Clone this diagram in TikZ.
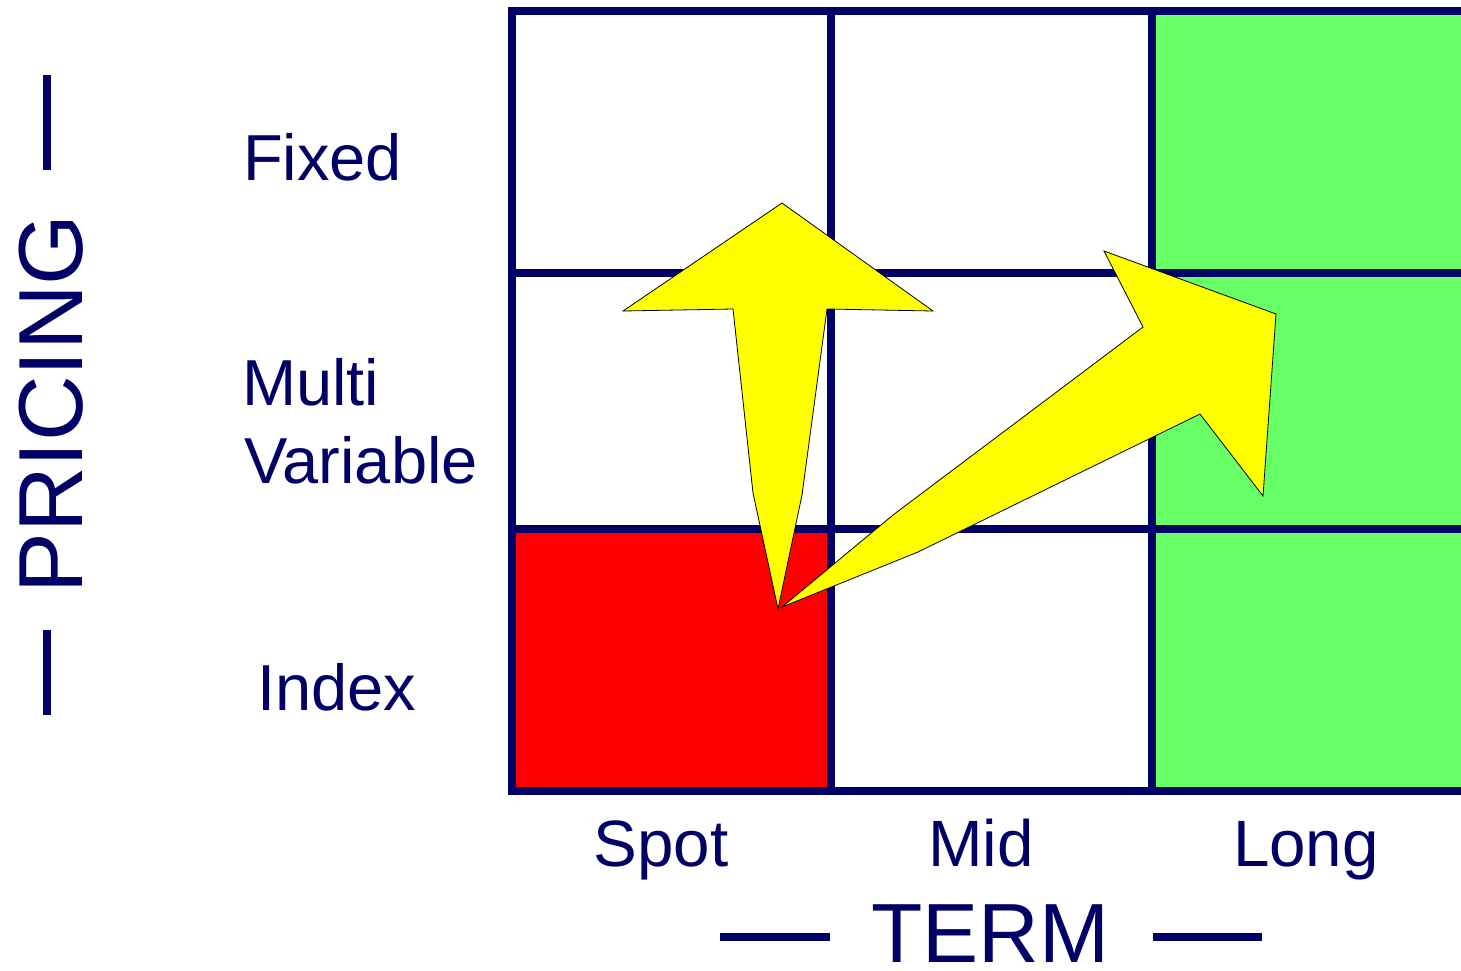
\documentclass[tikz,border=0pt]{standalone}
\usepackage{fontspec}
\setmainfont{Liberation Sans}
\definecolor{navy}{RGB}{0,0,102}
\definecolor{cellgreen}{RGB}{102,255,102}
\definecolor{cellred}{RGB}{255,0,0}
\definecolor{arrowyellow}{RGB}{255,255,0}
\begin{document}
\begin{tikzpicture}[x=1pt,y=-1pt,
  gridline/.style={draw=navy,line width=8pt},
  dashline/.style={draw=navy,line width=8pt},
  rowlabel/.style={text=navy,inner sep=0pt,anchor=base west,font=\fontsize{65}{78}\selectfont},
  collabel/.style={text=navy,inner sep=0pt,anchor=base,font=\fontsize{65.5}{78}\selectfont},
  axislabel/.style={text=navy,inner sep=0pt,anchor=base},
  bigarrow/.style={fill=arrowyellow,draw=black,line width=0.8pt,line join=miter}]
\useasboundingbox (0,0) rectangle (1461,970);
\clip (0,0) rectangle (1461,970);
% cell fills
\fill[cellred] (512,529) rectangle (831,791);
\fill[cellgreen] (1152,11) rectangle (1480,791);
% grid
\draw[gridline] (1480,11) -- (512,11) -- (512,791) -- (1480,791);
\draw[gridline] (512,273) -- (1480,273);
\draw[gridline] (512,529) -- (1480,529);
\draw[gridline] (831,11) -- (831,791);
\draw[gridline] (1152,11) -- (1152,791);
% row labels
\node[rowlabel] (fixed) at (243,180) {Fixed};
\node[rowlabel] (multi) at (242,405) {Multi};
\node[rowlabel] (variable) at (244,483) {Variable};
\node[rowlabel] (index) at (257,710) {Index};
% column labels
\node[collabel] (spot) at (661,866) {Spot};
\node[collabel] (mid) at (981,866) {Mid};
\node[collabel] (long) at (1306,866) {Long};
% axis labels
\node[axislabel,font=\fontsize{84}{90}\selectfont] (term) at (990,962) {TERM};
\node[axislabel,font=\fontsize{91}{95}\selectfont,rotate=90] (pricing) at (82,404) {PRICING};
% dashes
\coordinate (td1a) at (720,937); \coordinate (td1b) at (830,937);
\coordinate (td2a) at (1153,937); \coordinate (td2b) at (1262,937);
\coordinate (pd1a) at (47,75); \coordinate (pd1b) at (47,170);
\coordinate (pd2a) at (47,630); \coordinate (pd2b) at (47,715);
\draw[dashline] (td1a) -- (td1b);
\draw[dashline] (td2a) -- (td2b);
\draw[dashline] (pd1a) -- (pd1b);
\draw[dashline] (pd2a) -- (pd2b);
% up arrow
\draw[bigarrow] (782,203) -- (933,311) -- (827,309) -- (802,495) -- (778,609)
  -- (753,493) -- (733,309) -- (623,311) -- cycle;
% diagonal arrow
\draw[bigarrow] (782,607) -- (893,515) -- (1143,327) -- (1104,251) -- (1276,314)
  -- (1263,496) -- (1200,414) -- (918,552) -- cycle;
\end{tikzpicture}
\end{document}
